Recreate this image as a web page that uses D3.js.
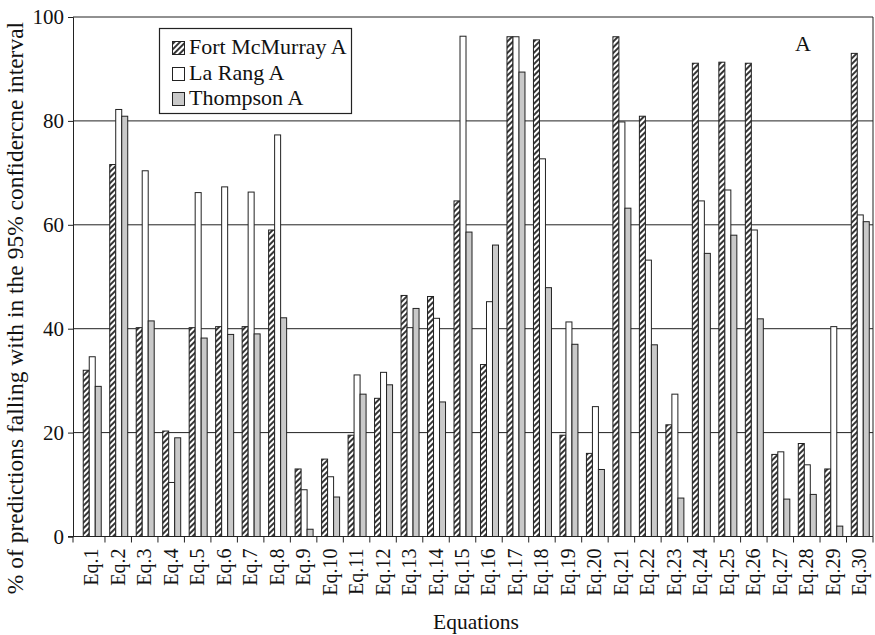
<!DOCTYPE html>
<html>
<head>
<meta charset="utf-8">
<script src="https://cdn.jsdelivr.net/npm/d3@7/dist/d3.min.js"></script>
<style>
  html, body { margin: 0; padding: 0; background: #fff; }
  svg { display: block; }
  svg text { font-family: "Liberation Serif", "DejaVu Serif", serif; fill: #111; }
</style>
</head>
<body>
<svg id="chart" width="875" height="635"></svg>
<script>
// Equation labels along the category axis
const equations = ["Eq.1","Eq.2","Eq.3","Eq.4","Eq.5","Eq.6","Eq.7","Eq.8","Eq.9","Eq.10",
  "Eq.11","Eq.12","Eq.13","Eq.14","Eq.15","Eq.16","Eq.17","Eq.18","Eq.19","Eq.20",
  "Eq.21","Eq.22","Eq.23","Eq.24","Eq.25","Eq.26","Eq.27","Eq.28","Eq.29","Eq.30"];

// % of predictions inside the 95% confidence interval, per station
const fortMcMurray = [32.0,71.6,40.2,20.3,40.2,40.4,40.4,59.0,13.0,14.9,
  19.5,26.6,46.4,46.2,64.6,33.1,96.2,95.6,19.5,16.0,
  96.2,80.9,21.5,91.1,91.3,91.1,15.8,17.9,13.0,93.0];
const laRang = [34.6,82.2,70.4,10.4,66.2,67.3,66.3,77.3,9.0,11.5,
  31.1,31.6,40.2,42.0,96.3,45.2,96.2,72.7,41.3,25.0,
  79.8,53.2,27.4,64.6,66.7,59.0,16.3,13.8,40.4,61.9];
const thompson = [28.9,80.9,41.5,19.0,38.2,38.9,39.0,42.1,1.4,7.6,
  27.4,29.2,43.9,25.9,58.6,56.1,89.4,47.9,37.0,12.9,
  63.2,36.9,7.4,54.5,58.0,41.9,7.2,8.1,2.0,60.6];

const seriesNames = ["Fort McMurray A", "La Rang A", "Thompson A"];
const seriesValues = [fortMcMurray, laRang, thompson];
const yTicks = [0, 20, 40, 60, 80, 100];

const svg = d3.select("#chart");
const serif = "Liberation Serif, DejaVu Serif, serif";
const axisLeft = 73, plotRight = 873, plotTop = 17, plotBottom = 536.5;

// hatch pattern for the first series
const defs = svg.append("defs");
defs.append("pattern")
  .attr("id", "hatch")
  .attr("patternUnits", "userSpaceOnUse")
  .attr("width", 4).attr("height", 4)
  .attr("patternTransform", "rotate(45)")
  .call(p => {
    p.append("rect").attr("width", 4).attr("height", 4).attr("fill", "#fff");
    p.append("line").attr("x1", 1).attr("y1", 0).attr("x2", 1).attr("y2", 4)
      .attr("stroke", "#111").attr("stroke-width", 1.7);
  });

const fills = ["url(#hatch)", "#ffffff", "#c9c9c9"];

const y = d3.scaleLinear().domain([0, 100]).range([plotBottom, plotTop]);
const x0 = d3.scaleBand().domain(equations).range([78.5, plotRight]).padding(0);
const groupW = 18;
const x1 = d3.scaleBand().domain(seriesNames)
  .range([(x0.bandwidth() - groupW) / 2, (x0.bandwidth() + groupW) / 2]).padding(0);

// horizontal gridlines
svg.append("g")
  .selectAll("line")
  .data(yTicks.filter(t => t > 0))
  .join("line")
  .attr("x1", axisLeft).attr("x2", plotRight)
  .attr("y1", d => y(d)).attr("y2", d => y(d))
  .attr("stroke", "#222").attr("stroke-width", 1);

// right frame edge
svg.append("line")
  .attr("x1", plotRight).attr("x2", plotRight)
  .attr("y1", plotTop).attr("y2", plotBottom)
  .attr("stroke", "#222").attr("stroke-width", 1);

// bars
const groups = svg.append("g")
  .selectAll("g")
  .data(equations)
  .join("g")
  .attr("transform", d => `translate(${x0(d)},0)`);

groups.selectAll("rect")
  .data((d, i) => seriesNames.map((s, k) => ({ s, k, v: seriesValues[k][i] })))
  .join("rect")
  .attr("x", d => x1(d.s) + 0.5)
  .attr("width", x1.bandwidth())
  .attr("y", d => y(d.v))
  .attr("height", d => y(0) - y(d.v))
  .attr("fill", d => fills[d.k])
  .attr("stroke", "#222")
  .attr("stroke-width", 1);

// y axis
const yAxis = d3.axisLeft(y).tickValues(yTicks).tickSize(5).tickPadding(4);
svg.append("g")
  .attr("transform", `translate(${axisLeft},0)`)
  .call(yAxis)
  .attr("font-family", serif)
  .call(g => g.select(".domain").attr("stroke", "#222"))
  .call(g => g.selectAll(".tick line").attr("stroke", "#222"))
  .call(g => g.selectAll("text").attr("font-size", 21)
    .attr("font-family", serif).attr("fill", "#111"));

// x axis: baseline, ticks at category boundaries, rotated labels
const xg = svg.append("g");
xg.append("line")
  .attr("x1", axisLeft - 5).attr("x2", plotRight)
  .attr("y1", plotBottom).attr("y2", plotBottom)
  .attr("stroke", "#222");
const boundaries = [axisLeft].concat(equations.map(e => x0(e) + x0.bandwidth()));
xg.selectAll("line.tk")
  .data(boundaries)
  .join("line").attr("class", "tk")
  .attr("x1", d => d).attr("x2", d => d)
  .attr("y1", plotBottom).attr("y2", plotBottom + 6)
  .attr("stroke", "#222");
xg.selectAll("text")
  .data(equations)
  .join("text")
  .attr("transform", d => `translate(${x0(d) + x0.bandwidth() / 2 + 6.5},${plotBottom + 12}) rotate(-90)`)
  .attr("text-anchor", "end")
  .attr("font-family", serif)
  .attr("font-size", 20)
  .text(d => d);

// axis titles
svg.append("text")
  .attr("x", 476).attr("y", 629)
  .attr("text-anchor", "middle")
  .attr("font-family", serif)
  .attr("font-size", 21.5)
  .text("Equations");

svg.append("text")
  .attr("transform", "translate(23,308) rotate(-90)")
  .attr("text-anchor", "middle")
  .attr("font-family", serif)
  .attr("font-size", 23.5)
  .text("% of predictions falling with in the 95% confidercne interval");

// panel letter
svg.append("text")
  .attr("x", 803).attr("y", 51)
  .attr("text-anchor", "middle")
  .attr("font-family", serif)
  .attr("font-size", 22)
  .text("A");

// legend
const lg = svg.append("g");
lg.append("rect")
  .attr("x", 159.5).attr("y", 28.5).attr("width", 192).attr("height", 85)
  .attr("fill", "#fff").attr("stroke", "#222").attr("stroke-width", 1.2);
const rowY = [41, 67, 92];
seriesNames.forEach((s, k) => {
  lg.append("rect")
    .attr("x", 172.5).attr("y", rowY[k] + 0.5).attr("width", 12).attr("height", 13)
    .attr("fill", fills[k]).attr("stroke", "#222").attr("stroke-width", 1);
  lg.append("text")
    .attr("x", 189).attr("y", rowY[k] + 13)
    .attr("font-family", serif)
    .attr("font-size", 22)
    .text(s);
});
</script>
</body>
</html>
